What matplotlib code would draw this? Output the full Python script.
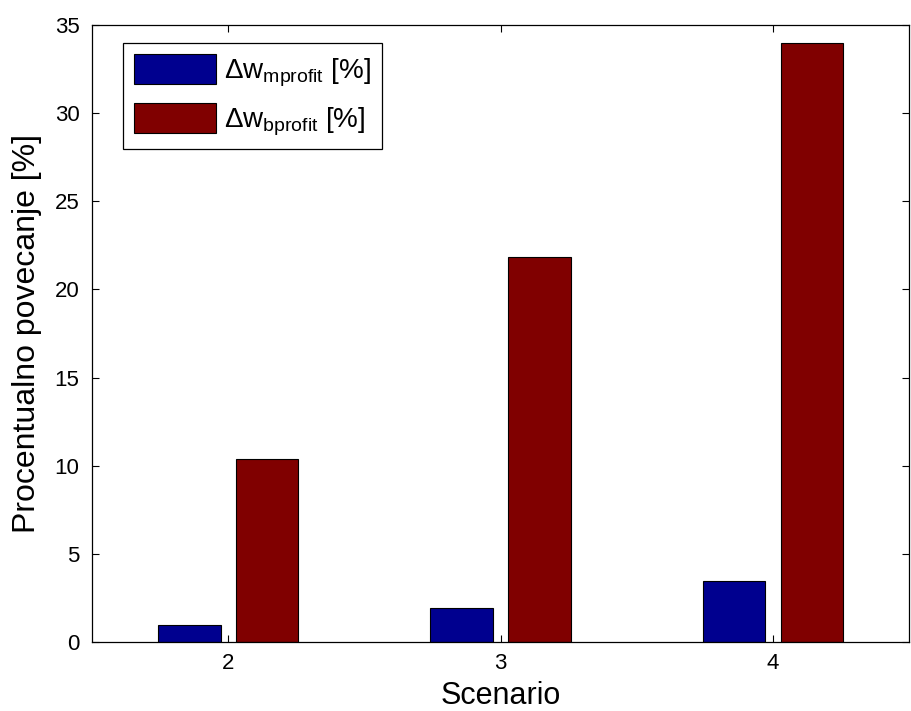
import matplotlib
matplotlib.use("Agg")
import matplotlib.pyplot as plt
import numpy as np

plt.rcParams['font.family'] = ['Liberation Sans', 'DejaVu Sans']
plt.rcParams['mathtext.fontset'] = 'custom'
plt.rcParams['mathtext.rm'] = 'Liberation Sans'
plt.rcParams['mathtext.it'] = 'Liberation Sans:italic'

scenarios = [2, 3, 4]
mprofit = [0.96, 1.95, 3.45]
bprofit = [10.38, 21.84, 33.98]
labels = ['Δw$_{\\mathrm{mprofit}}$ [%]', 'Δw$_{\\mathrm{bprofit}}$ [%]']

fig = plt.figure(figsize=(9.11, 7.11), dpi=100)
ax = fig.add_axes([0.101, 0.097, 0.897, 0.868])

x = np.array(scenarios)
w = 0.23
off = 0.143
ax.bar(x - off, mprofit, w, color='#00008F', edgecolor='black', linewidth=0.8, label=labels[0])
ax.bar(x + off, bprofit, w, color='#800000', edgecolor='black', linewidth=0.8, label=labels[1])

ax.set_xlim(1.5, 4.5)
ax.set_ylim(0, 35)
ax.set_xticks(scenarios)
ax.set_yticks(np.arange(0, 36, 5))
ax.tick_params(direction='in', length=5, top=True, right=True, labelsize=16, width=0.8)
ax.tick_params(axis='y', pad=9)
ax.tick_params(axis='x', pad=8)
for s in ax.spines.values():
    s.set_linewidth(0.9)

ax.set_xlabel('Scenario', fontsize=22, labelpad=5)
ax.set_ylabel('Procentualno povecanje [%]', fontsize=23, labelpad=9)

leg = ax.legend(loc='upper left', bbox_to_anchor=(0.038, 0.971), borderaxespad=0,
                fontsize=20, fancybox=False, edgecolor='black', framealpha=1,
                handlelength=2.95, handleheight=1.3, labelspacing=0.5,
                borderpad=0.4, handletextpad=0.3)
leg.get_frame().set_linewidth(0.9)

fig.savefig('out.png', dpi=100)
